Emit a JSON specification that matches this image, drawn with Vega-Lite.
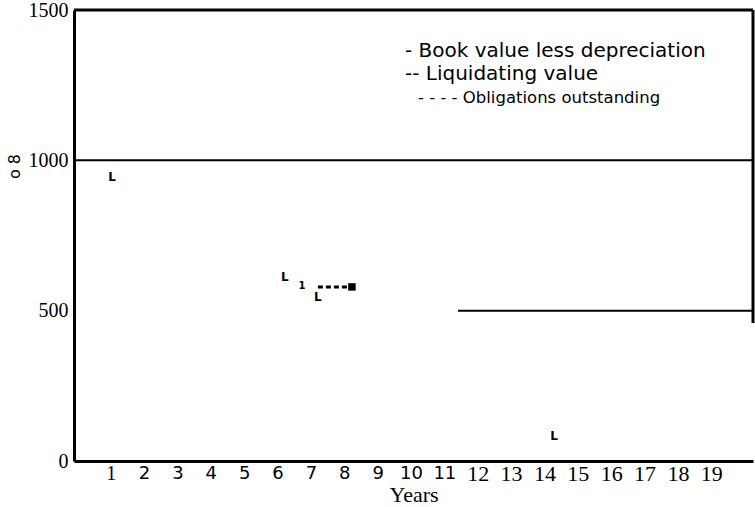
{
  "$schema": "https://vega.github.io/schema/vega-lite/v6.json",
  "width": 679,
  "height": 451,
  "autosize": "none",
  "padding": {"left": 74, "top": 10, "right": 2, "bottom": 46},
  "background": "white",
  "datasets": {
    "lMarks": [
      {"year": 1.04, "value": 945, "sym": "L"},
      {"year": 6.22, "value": 612, "sym": "L"},
      {"year": 7.21, "value": 545, "sym": "L"},
      {"year": 14.29, "value": 83, "sym": "L"}
    ],
    "oneMark": [
      {"year": 6.73, "value": 582, "sym": "1"}
    ],
    "obligations": [
      {"year": 7.21, "value": 579},
      {"year": 8.08, "value": 579}
    ],
    "endPoint": [
      {"year": 8.23, "value": 579}
    ],
    "levels": [
      {"year": -0.1, "year2": 20.25, "value": 1000, "value2": 1000},
      {"year": 11.41, "year2": 20.25, "value": 500, "value2": 500}
    ],
    "frame": [
      {"year": -0.1, "year2": 20.25, "value": 1500, "value2": 1500},
      {"year": 20.25, "year2": 20.25, "value": 459, "value2": 1500}
    ],
    "notesBig": [
      {"year": 9.82, "value": 1364, "label": "- Book value less depreciation"},
      {"year": 9.82, "value": 1288, "label": "-- Liquidating value"}
    ],
    "notesSmall": [
      {"year": 10.21, "value": 1207, "label": "- - - - Obligations outstanding"}
    ]
  },
  "encoding": {
    "x": {
      "field": "year",
      "type": "quantitative",
      "scale": {"domain": [-0.1, 20.25], "nice": false, "zero": false},
      "axis": {
        "values": [1, 2, 3, 4, 5, 6, 7, 8, 9, 10, 11, 12, 13, 14, 15, 16, 17, 18, 19],
        "format": "d",
        "title": "Years",
        "grid": false,
        "ticks": false,
        "tickSize": 0,
        "domainColor": "black",
        "domainWidth": 3,
        "labelColor": "black",
        "labelBaseline": "middle",
        "labelPadding": 12,
        "labelFlush": false,
        "labelOverlap": false,
        "labelFont": {"expr": "datum.value == 1 || datum.value >= 12 ? 'Liberation Serif' : 'DejaVu Sans'"},
        "labelFontSize": {"expr": "datum.value == 1 ? 20 : datum.value >= 12 ? 22 : 18"},
        "titleFont": "Liberation Serif",
        "titleFontSize": 22,
        "titleFontWeight": "normal",
        "titleColor": "black",
        "titlePadding": 0
      }
    },
    "y": {
      "field": "value",
      "type": "quantitative",
      "scale": {"domain": [0, 1500], "nice": false},
      "axis": {
        "values": [0, 500, 1000, 1500],
        "format": "d",
        "title": "o 8",
        "grid": false,
        "ticks": false,
        "tickSize": 0,
        "domainColor": "black",
        "domainWidth": 3,
        "labelColor": "black",
        "labelFont": "Liberation Serif",
        "labelFontSize": 20,
        "labelPadding": 6,
        "labelFlush": false,
        "titleFont": "DejaVu Sans",
        "titleFontSize": 16,
        "titleFontWeight": "normal",
        "titleColor": "black",
        "titleAngle": -90,
        "titleX": -60,
        "titleY": 156,
        "titleAlign": "center",
        "titleBaseline": "middle"
      }
    }
  },
  "layer": [
    {
      "data": {"name": "frame"},
      "mark": {"type": "rule", "color": "black", "strokeWidth": 3},
      "encoding": {"x2": {"field": "year2"}, "y2": {"field": "value2"}}
    },
    {
      "data": {"name": "levels"},
      "mark": {"type": "rule", "color": "black", "strokeWidth": 2},
      "encoding": {"x2": {"field": "year2"}, "y2": {"field": "value2"}}
    },
    {
      "data": {"name": "obligations"},
      "mark": {"type": "line", "color": "black", "strokeWidth": 3, "strokeDash": [5, 3]},
      "encoding": {}
    },
    {
      "data": {"name": "endPoint"},
      "mark": {"type": "square", "color": "black", "filled": true, "opacity": 1, "size": 56},
      "encoding": {}
    },
    {
      "data": {"name": "lMarks"},
      "mark": {"type": "text", "font": "DejaVu Sans", "fontWeight": "bold", "fontSize": 12, "align": "center", "baseline": "middle", "color": "black"},
      "encoding": {"text": {"field": "sym"}}
    },
    {
      "data": {"name": "oneMark"},
      "mark": {"type": "text", "font": "DejaVu Sans", "fontWeight": "bold", "fontSize": 10, "align": "center", "baseline": "middle", "color": "black"},
      "encoding": {"text": {"field": "sym"}}
    },
    {
      "data": {"name": "notesBig"},
      "mark": {"type": "text", "font": "DejaVu Sans", "fontSize": 20, "align": "left", "baseline": "middle", "color": "black"},
      "encoding": {"text": {"field": "label"}}
    },
    {
      "data": {"name": "notesSmall"},
      "mark": {"type": "text", "font": "DejaVu Sans", "fontSize": 16.5, "align": "left", "baseline": "middle", "color": "black"},
      "encoding": {"text": {"field": "label"}}
    }
  ],
  "config": {
    "view": {"stroke": null}
  }
}
